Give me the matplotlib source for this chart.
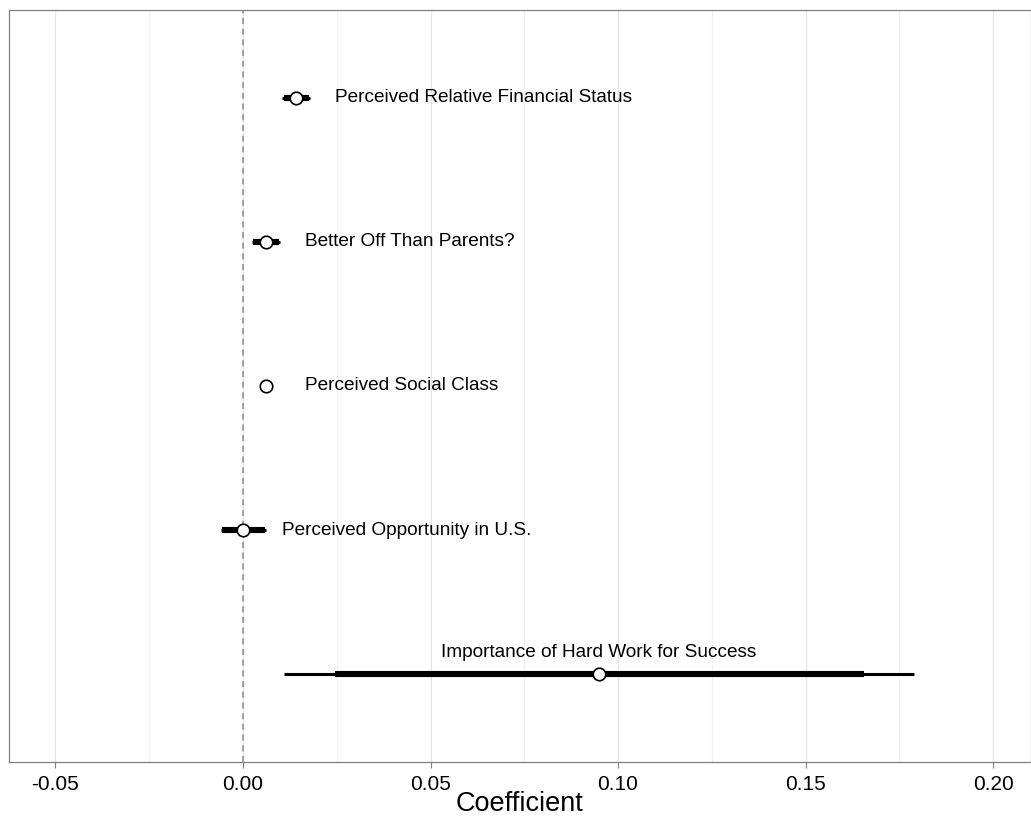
import numpy as np
import matplotlib.pyplot as plt
from matplotlib.ticker import MultipleLocator

plt.rcParams['font.family'] = ['Liberation Sans', 'DejaVu Sans']

# coefficient estimates with inner (thick) and outer (thin) intervals
labels = ['Importance of Hard Work for Success',
          'Perceived Opportunity in U.S.',
          'Perceived Social Class',
          'Better Off Than Parents?',
          'Perceived Relative Financial Status']
coef = [0.0949, 0.0000, 0.0060, 0.0061, 0.0141]
inner_lo = [0.0245, -0.0056, 0.0055, 0.0027, 0.0108]
inner_hi = [0.1656, 0.0059, 0.0066, 0.0096, 0.0176]
outer_lo = [0.0109, -0.0060, 0.0054, 0.0024, 0.0105]
outer_hi = [0.1789, 0.0062, 0.0067, 0.0099, 0.0179]
xticks = [-0.05, 0.00, 0.05, 0.10, 0.15, 0.20]

fig = plt.figure(figsize=(10.31, 8.17), dpi=100)
ax = fig.add_axes([0.0087, 0.0673, 0.9913, 0.9205])

ypos = np.arange(1, len(labels) + 1)

ax.axvline(0, color='#8c8c8c', linestyle=(0, (4, 3)), linewidth=1.1, zorder=1)
ax.hlines(ypos, outer_lo, outer_hi, color='black', linewidth=2.2, zorder=2)
ax.hlines(ypos, inner_lo, inner_hi, color='black', linewidth=4.4, zorder=3)
ax.plot(coef, ypos, 'o', markersize=9, markerfacecolor='white',
        markeredgecolor='black', markeredgewidth=1.2, zorder=4)

for i in range(len(labels)):
    if i == 0:
        ax.annotate(labels[i], (coef[i], ypos[i]), xytext=(0, 22),
                    textcoords='offset pixels', ha='center', va='center',
                    fontsize=13.7)
    else:
        ax.annotate(labels[i], (coef[i], ypos[i]), xytext=(39, 0),
                    textcoords='offset pixels', ha='left', va='center',
                    fontsize=13.7)

ax.set_xlim(-0.0624, 0.2101)
ax.set_ylim(0.39, 5.61)
ax.set_xticks(xticks)
ax.set_xticklabels(['%.2f' % t for t in xticks], fontsize=15)
ax.xaxis.set_minor_locator(MultipleLocator(0.025))
ax.set_yticks([])
ax.grid(axis='x', which='major', color='#e5e5e5', linewidth=0.9)
ax.grid(axis='x', which='minor', color='#f2f2f2', linewidth=0.9)
ax.set_axisbelow(True)
ax.tick_params(axis='x', which='major', length=4, color='#808080', pad=5)
ax.tick_params(axis='x', which='minor', length=0)
for s in ax.spines.values():
    s.set_color('#808080')
    s.set_linewidth(0.9)

ax.set_xlabel('Coefficient', fontsize=19.5, labelpad=-2)

fig.savefig('out.png', dpi=100)
